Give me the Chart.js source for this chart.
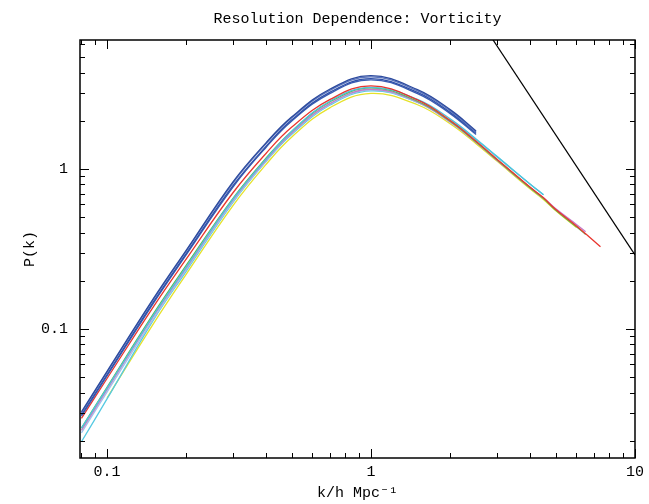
<!DOCTYPE html>
<html lang="en">
<head>
  <meta charset="UTF-8">
  <title>Resolution Dependence: Vorticity</title>
  <script src="https://cdn.jsdelivr.net/npm/chart.js"></script>
  <style>
    html, body { margin: 0; padding: 0; background: #fff; }
    canvas { display: block; }
  </style>
</head>
<body>
  <canvas id="pk" width="649" height="504"></canvas>

  <script>
    const chartTitle = "Resolution Dependence: Vorticity";

    // wavenumbers (k/h Mpc^-1) shared by all runs
    const k = [0.08, 0.1, 0.15, 0.2, 0.3, 0.4, 0.5, 0.7, 1.0, 1.5, 2.0, 2.5, 3.0, 4.0, 4.5, 5.0, 6.0, 6.5, 7.4];

    const blue1   = [0.0303, 0.0543, 0.155, 0.312, 0.830, 1.455, 2.11, 3.16, 3.83, 3.13, 2.34, 1.73, null, null, null, null, null, null, null];
    const blue2   = [0.0298, 0.0535, 0.153, 0.308, 0.816, 1.435, 2.08, 3.11, 3.76, 3.08, 2.30, 1.70, null, null, null, null, null, null, null];
    const blue3   = [0.0290, 0.0518, 0.148, 0.298, 0.786, 1.384, 2.02, 3.02, 3.67, 3.01, 2.25, 1.67, null, null, null, null, null, null, null];
    const blue4   = [0.0285, 0.0508, 0.145, 0.292, 0.771, 1.363, 1.99, 2.97, 3.61, 2.96, 2.21, 1.64, null, null, null, null, null, null, null];
    const red     = [0.0276, 0.0490, 0.138, 0.275, 0.710, 1.25, 1.82, 2.72, 3.31, 2.70, 2.00, 1.49, 1.15, 0.770, 0.660, 0.560, 0.440, 0.393, 0.326];
    const green   = [0.0240, 0.0432, 0.1245, 0.251, 0.655, 1.166, 1.718, 2.63, 3.21, 2.65, 1.98, 1.475, 1.14, 0.762, 0.653, 0.554, 0.435, 0.390, null];
    const magenta = [0.0232, 0.0417, 0.120, 0.242, 0.640, 1.138, 1.68, 2.57, 3.15, 2.63, 1.96, 1.47, 1.135, 0.765, 0.660, 0.565, 0.450, 0.405, null];
    const cyan1   = [0.0240, 0.0427, 0.122, 0.245, 0.647, 1.153, 1.716, 2.66, 3.24, 2.72, 2.05, 1.54, 1.20, 0.806, 0.690, null, null, null, null];
    const ltblue  = [0.0224, 0.0403, 0.116, 0.236, 0.626, 1.117, 1.664, 2.54, 3.11, 2.61, 1.96, 1.47, 1.14, 0.765, 0.655, null, null, null, null];
    const cyan2   = [0.0197, 0.0365, 0.114, 0.231, 0.619, 1.114, 1.643, 2.51, 3.08, 2.61, 2.00, 1.525, 1.19, 0.806, 0.690, null, null, null, null];
    const yellow  = [null, 0.0370, 0.108, 0.221, 0.590, 1.066, 1.58, 2.42, 2.97, 2.52, 1.91, 1.44, 1.12, 0.752, 0.645, 0.550, 0.430, null, null];

    // reference slope line
    const slopeK = [2.5, 10];
    const slopeP = [9.28, 0.29];

    // axis ranges and ticks
    const xRange = [0.079, 10];
    const yRange = [0.0156, 6.4];
    const xTicks = [0.08, 0.09, 0.1, 0.2, 0.3, 0.4, 0.5, 0.6, 0.7, 0.8, 0.9, 1, 2, 3, 4, 5, 6, 7, 8, 9, 10];
    const yTicks = [0.02, 0.03, 0.04, 0.05, 0.06, 0.07, 0.08, 0.09, 0.1, 0.2, 0.3, 0.4, 0.5, 0.6, 0.7, 0.8, 0.9, 1, 2, 3, 4, 5, 6];
    const xLabels = [0.1, 1, 10];
    const yLabels = [0.1, 1];

    const runs = [
      { p: blue1, color: "#2c4a9e" },
      { p: blue2, color: "#5a74bd" },
      { p: blue3, color: "#2f50a8" },
      { p: blue4, color: "#3a5cb2" },
      { p: red, color: "#e8352e" },
      { p: cyan1, color: "#4ec3dc" },
      { p: green, color: "#5cb85a" },
      { p: magenta, color: "#c47ac8" },
      { p: ltblue, color: "#9fc4ec" },
      { p: cyan2, color: "#55c9e2" },
      { p: yellow, color: "#e6e22a" }
    ];

    const datasets = [{
      data: slopeK.map((x, i) => ({ x, y: slopeP[i] })),
      borderColor: "#000",
      borderWidth: 1.2,
      pointRadius: 0
    }];
    runs.forEach(r => {
      datasets.push({
        data: k.map((x, i) => ({ x, y: r.p[i] })),
        borderColor: r.color,
        borderWidth: 1.3,
        pointRadius: 0,
        tension: 0.4
      });
    });

    const mono = "'Liberation Mono', 'DejaVu Sans Mono', monospace";

    // frame, inward tick marks on all four sides, title centred over the plot
    const frameTicks = {
      id: "frameTicks",
      afterDraw(chart) {
        const { ctx, chartArea: a, scales: { x, y } } = chart;
        ctx.save();
        ctx.strokeStyle = "#000";
        ctx.lineWidth = 1;
        ctx.beginPath();
        xTicks.forEach(v => {
          const px = Math.round(x.getPixelForValue(v)) + 0.5;
          const len = xLabels.includes(v) ? 9 : 5;
          ctx.moveTo(px, a.bottom); ctx.lineTo(px, a.bottom - len);
          ctx.moveTo(px, a.top); ctx.lineTo(px, a.top + len);
        });
        yTicks.forEach(v => {
          const py = Math.round(y.getPixelForValue(v)) + 0.5;
          const len = yLabels.includes(v) ? 9 : 5;
          ctx.moveTo(a.left, py); ctx.lineTo(a.left + len, py);
          ctx.moveTo(a.right, py); ctx.lineTo(a.right - len, py);
        });
        ctx.stroke();
        ctx.lineWidth = 1.5;
        ctx.strokeRect(a.left, a.top, a.right - a.left, a.bottom - a.top);

        ctx.fillStyle = "#000";
        ctx.font = "15px " + mono;
        ctx.textAlign = "center";
        ctx.textBaseline = "middle";
        ctx.fillText(chartTitle, (a.left + a.right) / 2, 19);
        ctx.restore();
      }
    };

    new Chart(document.getElementById("pk"), {
      type: "line",
      data: { datasets },
      options: {
        responsive: false,
        animation: false,
        layout: { padding: { left: 0, right: 12, top: 40, bottom: 0 } },
        plugins: {
          legend: { display: false },
          tooltip: { enabled: false },
          title: { display: false }
        },
        scales: {
          x: {
            type: "logarithmic",
            min: xRange[0],
            max: xRange[1],
            afterBuildTicks: s => { s.ticks = xTicks.map(v => ({ value: v })); },
            afterFit: s => { s.height = 46; },
            grid: { display: false, drawTicks: false },
            border: { display: false },
            ticks: {
              autoSkip: false,
              maxRotation: 0,
              padding: 5,
              color: "#000",
              font: { family: mono, size: 15 },
              callback: v => xLabels.includes(v) ? String(v) : ""
            },
            title: {
              display: true,
              text: "k/h Mpc\u207B\u00B9",
              color: "#000",
              font: { family: mono, size: 15 },
              padding: { top: 0, bottom: 2 }
            }
          },
          y: {
            type: "logarithmic",
            min: yRange[0],
            max: yRange[1],
            afterBuildTicks: s => { s.ticks = yTicks.map(v => ({ value: v })); },
            afterFit: s => { s.width = 80; },
            grid: { display: false, drawTicks: false },
            border: { display: false },
            ticks: {
              autoSkip: false,
              padding: 12,
              color: "#000",
              font: { family: mono, size: 15 },
              callback: v => yLabels.includes(v) ? String(v) : ""
            },
            title: {
              display: true,
              text: "P(k)",
              color: "#000",
              font: { family: mono, size: 15 },
              padding: { top: 21, bottom: 0 }
            }
          }
        }
      },
      plugins: [frameTicks]
    });
  </script>
</body>
</html>
